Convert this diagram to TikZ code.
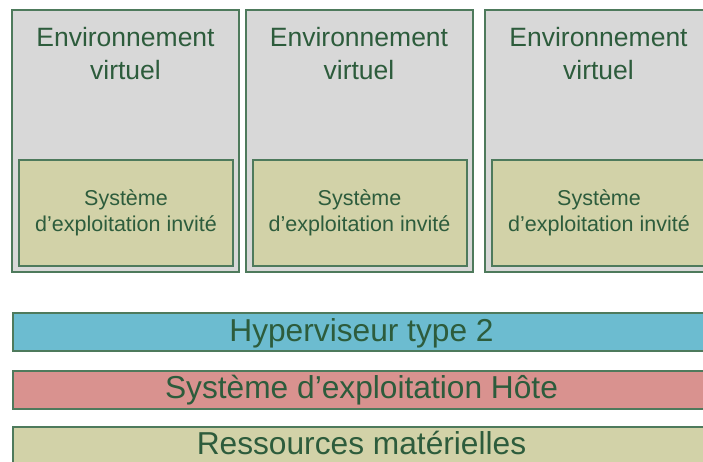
\documentclass[tikz,border=0pt]{standalone}
\usepackage{fontspec}
\setmainfont{Liberation Sans}
\usepackage{tikz}
\usetikzlibrary{positioning}
\definecolor{vmgreen}{RGB}{78,122,92}
\definecolor{vmtext}{RGB}{45,92,60}
\definecolor{vmgray}{RGB}{216,216,216}
\definecolor{vmolive}{RGB}{210,210,168}
\definecolor{vmblue}{RGB}{108,188,208}
\definecolor{vmpink}{RGB}{217,146,143}
\tikzset{
  envbox/.style={rectangle, draw=vmgreen, fill=vmgray, line width=2pt,
    minimum width=227pt, minimum height=262pt, inner sep=0pt},
  envtxt/.style={font=\fontsize{26.5}{33}\selectfont, text=vmtext, align=center,
    inner sep=0pt, anchor=north},
  osbox/.style={rectangle, draw=vmgreen, fill=vmolive, line width=2pt,
    minimum width=214pt, minimum height=106pt, inner sep=0pt,
    font=\fontsize{21.5}{26}\selectfont, text=vmtext, align=center},
  layer/.style={rectangle, draw=vmgreen, line width=2pt,
    minimum width=720pt, minimum height=38pt, inner sep=0pt, anchor=west},
  layertxt/.style={font=\fontsize{31.7}{32}\selectfont, text=vmtext, inner sep=0pt, anchor=base}
}

\begin{document}
\begin{tikzpicture}[x=1pt, y=-1pt]
  \useasboundingbox (0,0) rectangle (703,461);
  % environnements virtuels
  \node[envbox] (env1) at (125.5,141) {};
  \node[envbox] (env2) at (359,141) {};
  \node[envbox] (env3) at (598.5,141) {};
  \node[envtxt] (env1txt) at (125.5,27) {Environnement\\virtuel};
  \node[envtxt] (env2txt) at (359,27) {Environnement\\virtuel};
  \node[envtxt] (env3txt) at (598.5,27) {Environnement\\virtuel};
  % systemes invites
  \node[osbox] (os1) at (126,213) {Système\\d’exploitation invité};
  \node[osbox] (os2) at (359.5,213) {Système\\d’exploitation invité};
  \node[osbox] (os3) at (599,213) {Système\\d’exploitation invité};
  % couches
  \node[layer, fill=vmblue] (hyper) at (12,332) {};
  \node[layer, fill=vmpink] (host) at (12,389.5) {};
  \node[layer, fill=vmolive] (hw) at (12,445.5) {};
  \node[layertxt] (hypertxt) at (361.5,341) {Hyperviseur type 2};
  \node[layertxt] (hosttxt) at (361.5,398) {Système d’exploitation Hôte};
  \node[layertxt] (hwtxt) at (361.5,454.5) {Ressources matérielles};
\end{tikzpicture}
\end{document}
